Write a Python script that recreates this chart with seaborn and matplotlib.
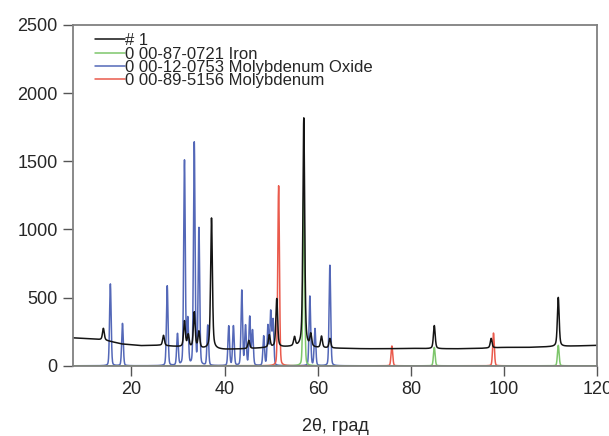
import numpy as np
import pandas as pd
import matplotlib
matplotlib.use("Agg")
import matplotlib.pyplot as plt
import seaborn as sns

# ---- data ----
# measured pattern "# 1": background knots and peaks (2theta, height above background)
bg_x = [7.5, 10, 14, 18, 22, 26, 30, 35, 40, 45, 50, 55, 60, 65, 70, 75, 80, 85, 90, 95, 100, 105, 110, 115, 120]
bg_y = [205, 200, 190, 160, 148, 150, 140, 125, 120, 125, 135, 140, 130, 128, 125, 125, 128, 125, 125, 128, 135, 135, 140, 145, 150]
meas_pos = [14.0, 26.9, 31.4, 32.2, 33.5, 34.5, 37.2, 45.2, 49.6, 51.2, 55.0, 57.0, 58.5, 60.8, 62.6, 85.0, 97.2, 111.6]
meas_amp = [85, 75, 190, 90, 260, 120, 960, 60, 90, 355, 65, 1680, 90, 85, 70, 170, 70, 360]

# reference: 0 00-87-0721 Iron
fe_pos = [57.0, 85.0, 111.6]
fe_amp = [1260, 135, 150]

# reference: 0 00-12-0753 Molybdenum Oxide
moo_pos = [15.5, 18.1, 27.7, 29.9, 31.4, 32.1, 33.5, 34.5, 36.4, 40.9, 41.9, 43.7, 44.5, 45.4, 46.0,
           48.4, 49.3, 49.9, 50.4, 58.3, 59.4, 62.6]
moo_amp = [600, 310, 585, 230, 1500, 330, 1630, 1000, 295, 290, 290, 550, 290, 355, 255,
           215, 290, 390, 330, 510, 270, 737]

# reference: 0 00-89-5156 Molybdenum
mo_pos = [51.6, 75.9, 97.7]
mo_amp = [1320, 145, 240]

labels = ["# 1", "0 00-87-0721 Iron", "0 00-12-0753 Molybdenum Oxide", "0 00-89-5156 Molybdenum"]
x_ticks = [20, 40, 60, 80, 100, 120]
y_ticks = [0, 500, 1000, 1500, 2000, 2500]


def profile(x, pos, amp, fwhm, eta=0.5):
    y = np.zeros_like(x)
    for p, a in zip(pos, amp):
        d = (x - p) / (fwhm / 2)
        g = np.exp(-np.log(2) * d ** 2)
        lor = 1 / (1 + d ** 2)
        y += a * (eta * lor + (1 - eta) * g)
    return y


x = np.arange(7.5, 120.001, 0.02)
y_meas = np.interp(x, bg_x, bg_y) + profile(x, meas_pos, meas_amp, 0.45, 0.5)
y_fe = profile(x, fe_pos, fe_amp, 0.42, 0.2)
y_moo = profile(x, moo_pos, moo_amp, 0.4, 0.2)
y_mo = profile(x, mo_pos, mo_amp, 0.42, 0.2)

df = pd.concat([
    pd.DataFrame({"x": x, "y": y_moo, "s": labels[2]}),
    pd.DataFrame({"x": x, "y": y_mo, "s": labels[3]}),
    pd.DataFrame({"x": x, "y": y_fe, "s": labels[1]}),
    pd.DataFrame({"x": x, "y": y_meas, "s": labels[0]}),
])

sns.set_style("ticks")
plt.rcParams['font.family'] = ['Liberation Sans', 'DejaVu Sans']

colors = {labels[0]: "#141414", labels[1]: "#7dc66b", labels[2]: "#5468b8", labels[3]: "#ea5a4c"}

fig = plt.figure(figsize=(6.09, 4.36), dpi=100)
ax = fig.add_axes([0.12, 0.161, 0.861, 0.782])

for lab in [labels[2], labels[3], labels[1], labels[0]]:
    sub = df[df["s"] == lab]
    sns.lineplot(data=sub, x="x", y="y", ax=ax, color=colors[lab], lw=1.1,
                 estimator=None, sort=False, label=lab)

ax.set_xlim(7.5, 120)
ax.set_ylim(0, 2500)
ax.set_xticks(x_ticks)
ax.set_yticks(y_ticks)
ax.tick_params(labelsize=13, length=7, width=1, color="#555555", pad=4)
ax.tick_params(axis="y", pad=4)
for sp in ax.spines.values():
    sp.set_color("#808080")
    sp.set_linewidth(1.3)
ax.set_xlabel("2θ, град", fontsize=13, labelpad=14)
ax.set_ylabel("")

handles, labs = ax.get_legend_handles_labels()
order = [labs.index(l) for l in labels]
leg = ax.legend([handles[i] for i in order], [labs[i] for i in order],
                loc="upper left", frameon=False, fontsize=12, handlelength=1.8,
                handletextpad=0.0, labelspacing=-0.1, borderaxespad=0.1,
                bbox_to_anchor=(0.025, 1.0))

fig.savefig("out.png", dpi=100)
